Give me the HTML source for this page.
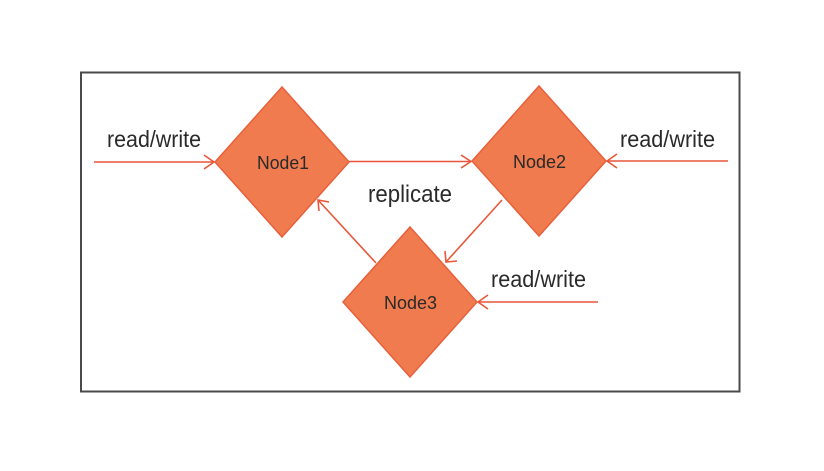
<!DOCTYPE html>
<html><head><meta charset="utf-8"><style>
html,body{margin:0;padding:0;background:#fff;}
svg{display:block;}
text{font-family:"Liberation Sans",sans-serif;fill:#2a2a2a;}
</style></head><body>
<svg width="824" height="471" viewBox="0 0 824 471" xmlns="http://www.w3.org/2000/svg">
<rect x="81" y="72.5" width="658.5" height="319" fill="#fff" stroke="#4a4a4a" stroke-width="2"/>
<g fill="#ef7b4e" stroke="#e8603c" stroke-width="1.5">
<polygon points="282,87 349,162 282,237 215,162"/>
<polygon points="539,86 606,161 539,236 472,161"/>
<polygon points="410,227 477,302 410,377 343,302"/>
</g>
<g stroke="#e8573a" stroke-width="1.6" fill="none">
<line x1="94" y1="162" x2="214" y2="162"/><polyline points="204,155 214,162 204,169"/>
<line x1="349" y1="161.5" x2="471" y2="161.5"/><polyline points="461,155 471,161.5 461,168"/>
<line x1="728" y1="161" x2="607" y2="161"/><polyline points="617,154 607,161 617,168"/>
<line x1="598" y1="302" x2="478" y2="302"/><polyline points="488,295 478,302 488,309"/>
<line x1="502" y1="200" x2="446" y2="262"/><polyline points="445,251 446,262 457,261"/>
<line x1="376" y1="263" x2="318" y2="200"/><polyline points="319,211 318,200 329,202"/>
</g>
<text x="107" y="147" font-size="23.5" textLength="94" lengthAdjust="spacingAndGlyphs">read/write</text>
<text x="620" y="147" font-size="23.5" textLength="95" lengthAdjust="spacingAndGlyphs">read/write</text>
<text x="491" y="287" font-size="23.5" textLength="95" lengthAdjust="spacingAndGlyphs">read/write</text>
<text x="368" y="202" font-size="24" textLength="84" lengthAdjust="spacingAndGlyphs">replicate</text>
<text x="257" y="169" font-size="18.5" textLength="52" lengthAdjust="spacingAndGlyphs">Node1</text>
<text x="513" y="168" font-size="18.5" textLength="53" lengthAdjust="spacingAndGlyphs">Node2</text>
<text x="384" y="309" font-size="18.5" textLength="53" lengthAdjust="spacingAndGlyphs">Node3</text>
</svg>
</body></html>
